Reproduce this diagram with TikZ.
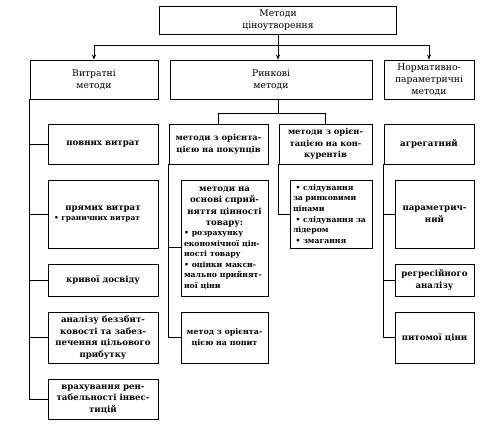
\documentclass[tikz,border=0pt]{standalone}
\usepackage{fontspec}
\setmainfont{DejaVu Serif}
\usetikzlibrary{arrows.meta}

\begin{document}
\begin{tikzpicture}[x=1pt,y=-1pt,
        head/.style={draw, line width=0.8pt, align=center, inner sep=2pt,
                font=\fontsize{9.2}{11.8}\selectfont},
        item/.style={draw, line width=0.8pt, align=center, inner sep=2pt,
                font=\bfseries\fontsize{8.6}{11.6}\selectfont},
        small/.style={font=\bfseries\fontsize{7.7}{10.6}\selectfont},
        link/.style={line width=0.8pt},
        ]
        \useasboundingbox (0,0) rectangle (492,432);

        % top
        \node[head, minimum width=237pt, minimum height=28pt] (top) at (278,20) {Методи\\ціноутворення};

        % second level
        \node[head, minimum width=128pt, minimum height=39pt] (vit) at (94,79.5) {Витратні\\методи};
        \node[head, minimum width=202pt, minimum height=39pt] (rin) at (271,79.5) {Ринкові\\методи};
        \node[head, minimum width=90pt, minimum height=39pt] (norm) at (429,79.5) {Нормативно-\\параметричні\\методи};

        \draw[link] (top.south) -- ++(0,11) coordinate (split);
        \draw[link, -{Stealth[length=5pt,width=4pt]}] (split) -| (vit.north);
        \draw[link, -{Stealth[length=5pt,width=4pt]}] (split) -| (norm.north);
        \draw[link, -{Stealth[length=5pt,width=4pt]}] (split) -- (split |- rin.north);

        % cost methods
        \node[item, minimum width=110pt, minimum height=68pt] (pry) at (103,214) {прямих витрат\\[-1pt]
                {\hspace*{-12pt}\bfseries\fontsize{7.4}{9}\selectfont• граничних витрат}};
        \node[item, minimum width=110pt, minimum height=40pt] (pov) at (103,144) {повних витрат};
        \node[item, minimum width=110pt, minimum height=32pt] (kri) at (103,280) {кривої досвіду};
        \node[item, minimum width=110pt, minimum height=51pt] (ana) at (103,337.5) {аналізу беззбит-\\ковості та забез-\\печення цільового\\прибутку};
        \node[item, minimum width=110pt, minimum height=40pt] (vra) at (103,399) {врахування рен-\\табельності інвес-\\тицій};

        \draw[link] (vit.south west) |- (pov.west);
        \draw[link] (vit.south west) |- (pry.west);
        \draw[link] (vit.south west) |- (kri.west);
        \draw[link] (vit.south west) |- (ana.west);
        \draw[link] (vit.south west) |- (vra.west);

        % market methods
        \node[item, minimum width=99pt, minimum height=40pt, font=\bfseries\fontsize{8.3}{11.6}\selectfont] (pok) at (218.5,144) {методи з орієнта-\\цією на покупців};
        \node[item, minimum width=93pt, minimum height=40pt, font=\bfseries\fontsize{8.3}{11.6}\selectfont] (kon) at (325.5,144) {методи з орієн-\\тацією на кон-\\курентів};

        \draw[link] (rin.south -| split) -- ++(0,14) coordinate (rsplit);
        \draw[link] (rsplit) -| (pok.north);
        \draw[link] (rsplit) -| (kon.north);

        \node[item, text width=81pt, minimum height=116pt, inner sep=3pt] (spr) at (224.5,238) {методи на\\основі сприй-\\няття цінності\\товару:\\[-2pt]
                \parbox[t]{81pt}{\raggedright\bfseries\fontsize{7.7}{10.6}\selectfont • розрахунку\\економічної цін-\\ності товару\\• оцінки макси-\\мально прийнят-\\ної ціни}};
        \node[item, minimum width=87pt, minimum height=51pt, font=\bfseries\fontsize{7.9}{11.5}\selectfont] (pop) at (224.5,337.5) {метод з орієнта-\\цією на попит};
        \node[item, small, text width=76pt, minimum height=68pt, inner sep=3pt, align=left] (sld) at (331,214) {~• слідування\\за ринковими\\цінами\\~• слідування за\\лідером\\~• змагання};

        \draw[link] (pok.south west) |- ([yshift=-9pt]spr.west);
        \draw[link] (pok.south west) |- (pop.west);
        \draw[link] (kon.south west) |- (sld.west);

        % normative methods
        \node[item, minimum width=90pt, minimum height=40pt] (agr) at (429,144) {агрегатний};
        \node[item, minimum width=79pt, minimum height=68pt] (par) at (434.5,214) {параметрич-\\ний};
        \node[item, minimum width=79pt, minimum height=32pt] (reg) at (434.5,280) {регресійного\\аналізу};
        \node[item, minimum width=79pt, minimum height=51pt] (pyt) at (434.5,337.5) {питомої ціни};

        \draw[link] (agr.south west) |- (par.west);
        \draw[link] (agr.south west) |- (reg.west);
        \draw[link] (agr.south west) |- (pyt.west);

\end{tikzpicture}
\end{document}
